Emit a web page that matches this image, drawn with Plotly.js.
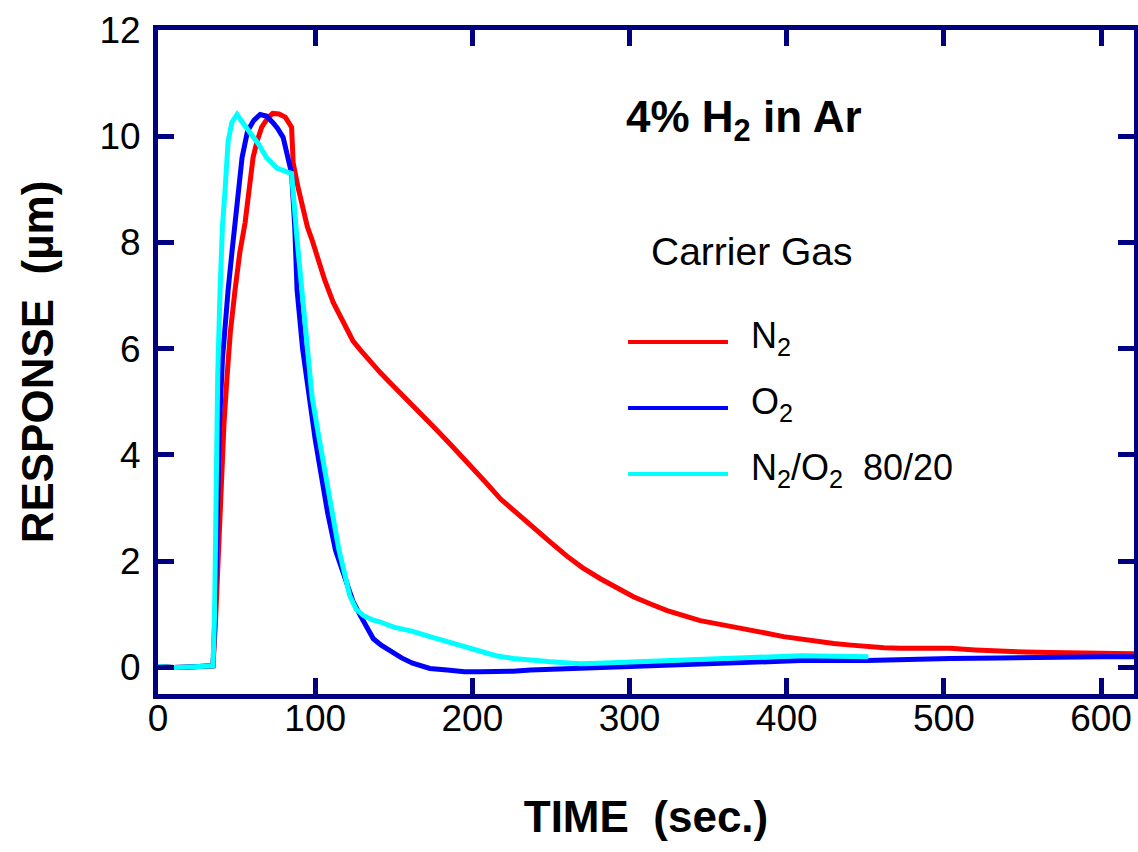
<!DOCTYPE html>
<html>
<head>
<meta charset="utf-8">
<script src="https://cdn.plot.ly/plotly-3.0.1.min.js"></script>
<style>html,body{margin:0;padding:0;background:#fff;}#chart{width:1138px;height:852px;}</style>
</head>
<body>
<div id="chart"></div>
<script>
// Time (s) and response (µm)
const timeN2 = [0,10,20,30,35,36.5,38,40,42,44,46,49,52,55.4,58,60.5,63,66,70,73,77,81,85,86,89,92,95,98,102,106,111.5,116,120,124,128.7,135,141.4,148,156,165,175,186,197,208,218,229,239,250,260,270,281.5,292,302.5,313,324,335,345,356,366,377,388,398,409,420,430,441,451.6,462,472.6,488,504,520,536,552,568,584,600,610,621];
const respN2 = [0.02,0,0.01,0.02,0.03,0.8,2.0,3.4,4.6,5.5,6.3,7.1,7.8,8.37,9.0,9.6,9.9,10.17,10.35,10.43,10.42,10.36,10.17,9.5,9.05,8.67,8.3,8.05,7.67,7.3,6.87,6.6,6.36,6.15,5.98,5.75,5.55,5.35,5.1,4.85,4.54,4.2,3.86,3.5,3.17,2.88,2.61,2.35,2.1,1.88,1.67,1.5,1.33,1.2,1.07,0.97,0.88,0.82,0.77,0.7,0.64,0.58,0.53,0.49,0.45,0.42,0.39,0.37,0.36,0.36,0.36,0.33,0.3,0.29,0.28,0.28,0.28,0.27,0.26];

const timeO2 = [0,10,20,30,35,36.5,37,39,41,43,44.6,47,49,51,53.5,57,61,65,69,73,76,79.6,83,85,87,88.5,92,96,100,104,108,113,117,120,124,128.7,133,137,142,148,155,162,173,184,195,205,215,226,237,248,259,269,280,290,311,332,366,409,451,472,504,536,568,600,621];
const respO2 = [0.02,0,0.01,0.02,0.03,1.2,2.0,4.5,5.8,6.6,7.1,7.8,8.37,8.9,9.6,10.1,10.3,10.41,10.38,10.26,10.15,9.98,9.6,9.3,8.3,7.1,6.0,5.1,4.3,3.6,2.9,2.2,1.85,1.61,1.25,0.98,0.75,0.54,0.42,0.3,0.18,0.08,-0.02,-0.05,-0.08,-0.08,-0.08,-0.07,-0.05,-0.04,-0.02,-0.01,0,0.02,0.04,0.06,0.09,0.13,0.13,0.15,0.17,0.18,0.2,0.2,0.2];

const timeMix = [0,10,20,30,35,36,37,38,39.5,41,42.7,44.6,47,50.3,54,58.6,64,69,75.6,82,85,88.5,91.7,95,98,102,106,110,115,118,122,126,130.6,136,141,150,162,173,184,195,205,215,226,237,248,259,269,280,290,311,332,350,366,388,409,430,452];
const respMix = [0.02,0,0.01,0.02,0.03,1.0,3.5,5.5,7.1,8.3,9.0,9.9,10.26,10.41,10.25,10.06,9.85,9.6,9.4,9.33,9.3,8.05,7.1,5.98,5.1,4.4,3.7,3.1,2.23,1.86,1.35,1.1,0.98,0.9,0.86,0.76,0.68,0.58,0.49,0.4,0.3,0.22,0.17,0.13,0.11,0.09,0.07,0.08,0.09,0.11,0.13,0.15,0.17,0.19,0.22,0.21,0.2];

const seriesNames = ["N<sub>2</sub>", "O<sub>2</sub>", "N<sub>2</sub>/O<sub>2</sub>\u00A0\u00A080/20"];
const seriesColors = ["#ff0000", "#0000ff", "#00ffff"];
const xTicks = [0,100,200,300,400,500,600];
const yTicks = [0,2,4,6,8,10,12];

const FONT = "Liberation Sans, Arial, sans-serif";
const NAVY = "#000080";

const traces = [
  {x: timeN2, y: respN2},
  {x: timeO2, y: respO2},
  {x: timeMix, y: respMix}
].map((t, i) => ({
  x: t.x, y: t.y, type: "scatter", mode: "lines", name: seriesNames[i],
  line: {color: seriesColors[i], width: 5}, showlegend: false
}));

// manual legend (long sample lines as in the reference)
const legY = [0.530, 0.4307, 0.3313];
const shapes = legY.map((y, i) => ({
  type: "line", xref: "paper", yref: "paper", x0: 0.4816, x1: 0.584, y0: y, y1: y,
  line: {color: seriesColors[i], width: 4}
}));
const annotations = legY.map((y, i) => ({
  xref: "paper", yref: "paper", x: 0.606, y: y + 0.006, xanchor: "left", yanchor: "middle",
  text: seriesNames[i], showarrow: false, font: {family: FONT, size: 36, color: "#000"}
}));
annotations.push({
  xref: "paper", yref: "paper", x: 0.477, y: 0.864, xanchor: "left", yanchor: "middle",
  text: "<b>4% H<sub>2</sub> in Ar</b>", showarrow: false, font: {family: FONT, size: 44, color: "#000"}
});
annotations.push({
  xref: "paper", yref: "paper", x: 0.503, y: 0.666, xanchor: "left", yanchor: "middle",
  text: "Carrier Gas", showarrow: false, font: {family: FONT, size: 39, color: "#000"}
});

const axisCommon = {
  showgrid: false, zeroline: false, showline: true, mirror: "ticks",
  linecolor: NAVY, linewidth: 5, ticks: "inside", ticklen: 16, tickwidth: 5, tickcolor: NAVY,
  tickfont: {family: FONT, size: 37, color: "#000"}
};

const layout = {
  width: 1138, height: 852,
  margin: {l: 158, r: 4, t: 30, b: 158},
  paper_bgcolor: "#fff", plot_bgcolor: "#fff",
  showlegend: false,
  xaxis: Object.assign({}, axisCommon, {
    range: [0, 621], tickvals: xTicks, ticktext: xTicks.map(String),
    ticklabelstandoff: -12,
    title: {text: "<b>TIME\u00A0\u00A0(sec.)</b>", font: {family: FONT, size: 44, color: "#000"}, standoff: 64}
  }),
  yaxis: Object.assign({}, axisCommon, {
    range: [-0.5, 12], tickvals: yTicks, ticktext: yTicks.map(String),
    ticklabelstandoff: 5,
    title: {text: "<b>RESPONSE\u00A0\u00A0(µm)</b>", font: {family: FONT, size: 44, color: "#000"}, standoff: 34}
  }),
  shapes: shapes,
  annotations: annotations
};

Plotly.newPlot("chart", traces, layout, {displayModeBar: false, staticPlot: true});
</script>
</body>
</html>
